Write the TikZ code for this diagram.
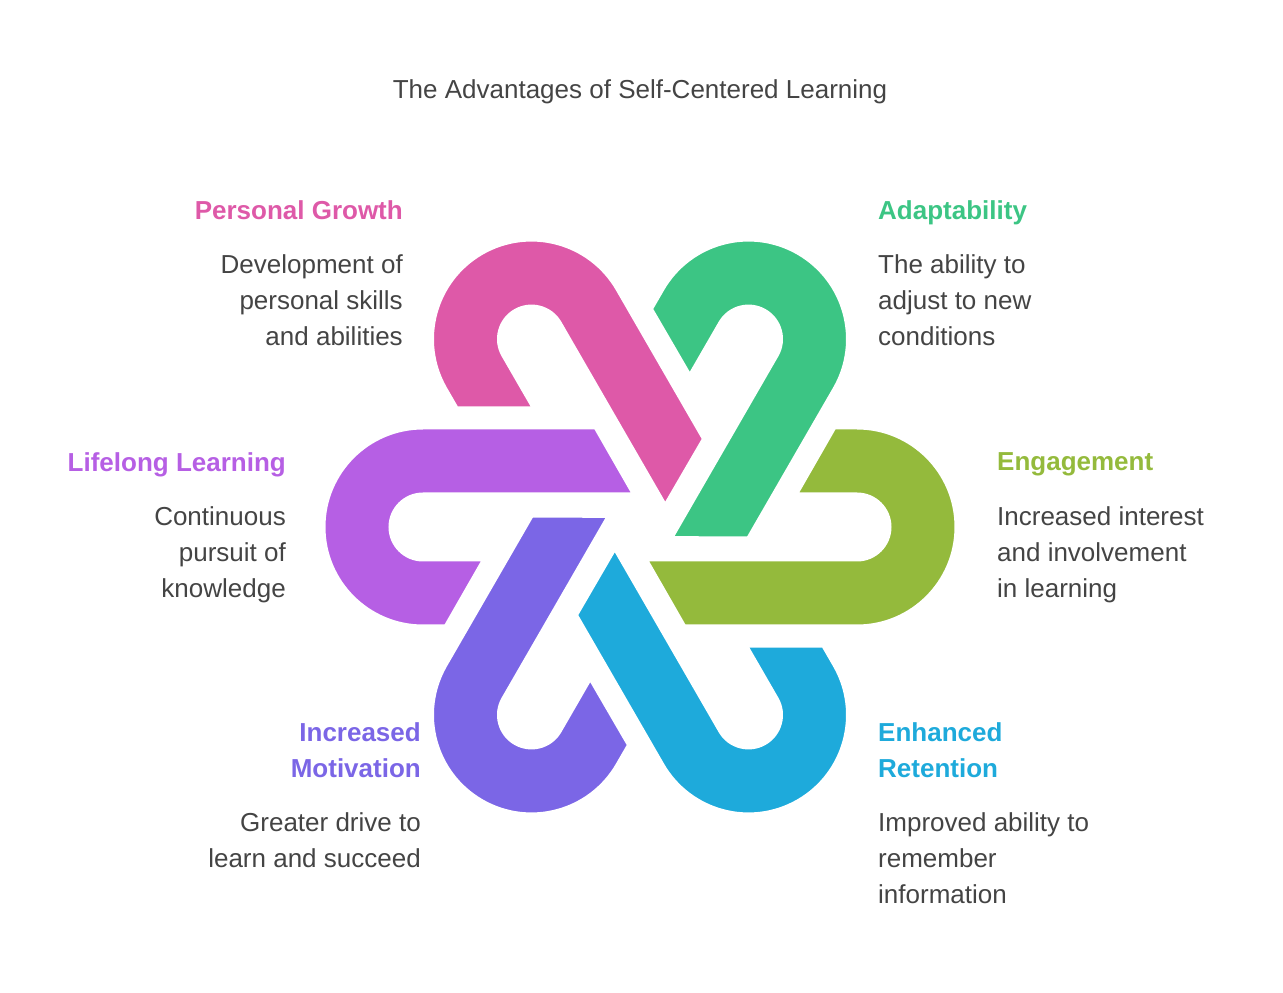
\documentclass[tikz,border=0pt]{standalone}
\usepackage{fontspec}
\setmainfont{Liberation Sans}
\definecolor{cEng}{HTML}{94BA3C}
\definecolor{cAda}{HTML}{3CC584}
\definecolor{cPer}{HTML}{DE59A8}
\definecolor{cLif}{HTML}{B65FE4}
\definecolor{cMot}{HTML}{7B66E6}
\definecolor{cRet}{HTML}{1EAADB}
\definecolor{txt}{HTML}{444444}
\tikzset{
  hd/.style={font=\fontsize{26}{36}\selectfont\bfseries, inner sep=0pt},
  ds/.style={font=\fontsize{26}{36}\selectfont, text=txt, inner sep=0pt},
  band/.style={draw=white, line width=5pt, line join=miter}
}
\newcommand{\hairpin}[2]{%
  \fill[#2,band,rotate=#1] (194,100) -- (217,100) arc[start angle=90,end angle=-90,radius=100]
    -- (44,-100) -- (5,-32) -- (217,-32) arc[start angle=-90,end angle=90,radius=32]
    -- (155,32) -- cycle;}
\begin{document}
\begin{tikzpicture}[x=1pt,y=1pt]
\useasboundingbox (-640,-466) rectangle (643,527);
\node[font=\fontsize{26}{32}\selectfont, text=txt] (title) at (0,435) {The Advantages of Self-Centered Learning};
\hairpin{0}{cEng}
\hairpin{60}{cAda}
\hairpin{120}{cPer}
\hairpin{180}{cLif}
\hairpin{240}{cMot}
\hairpin{300}{cRet}
% Personal Growth
\node[hd, text=cPer, anchor=north east] (pgh) at (-237,327) {Personal Growth};
\node[ds, anchor=north east, align=right] (pgd) at (-237,273) {Development of\\personal skills\\and abilities};
% Adaptability
\node[hd, text=cAda, anchor=north west] (adh) at (238,327) {Adaptability};
\node[ds, anchor=north west, align=left] (add) at (238,273) {The ability to\\adjust to new\\conditions};
% Engagement
\node[hd, text=cEng, anchor=north west] (enh) at (357,75) {Engagement};
\node[ds, anchor=north west, align=left] (end) at (357,21) {Increased interest\\and involvement\\in learning};
% Lifelong
\node[hd, text=cLif, anchor=north east] (llh) at (-354,75) {Lifelong Learning};
\node[ds, anchor=north east, align=right] (lld) at (-354,21) {Continuous\\pursuit of\\knowledge};
% Motivation
\node[hd, text=cMot, anchor=north east, align=right] (mth) at (-219,-195) {Increased\\Motivation};
\node[ds, anchor=north east, align=right] (mtd) at (-219,-285) {Greater drive to\\learn and succeed};
% Retention
\node[hd, text=cRet, anchor=north west, align=left] (rth) at (238,-195) {Enhanced\\Retention};
\node[ds, anchor=north west, align=left] (rtd) at (238,-285) {Improved ability to\\remember\\information};
\end{tikzpicture}
\end{document}
